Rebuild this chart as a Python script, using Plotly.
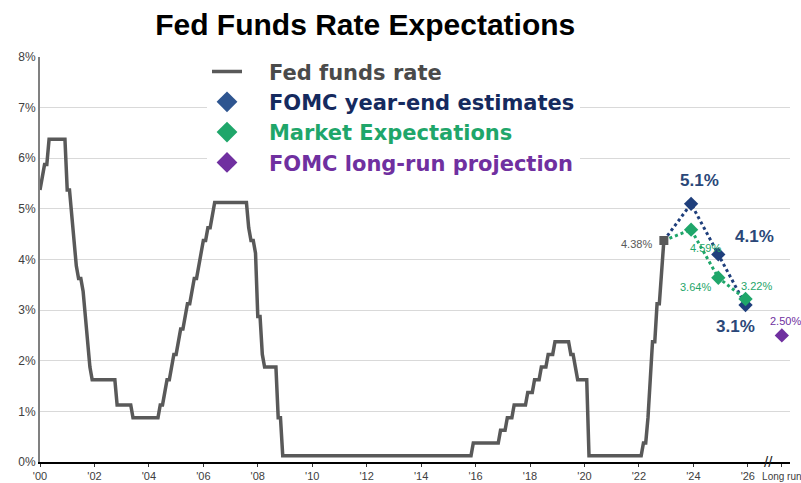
import plotly.graph_objects as go

# ---------------- data ----------------
ffr_dates = ["2000-01","2000-02","2000-03","2000-04","2000-05","2000-12",
             "2001-01","2001-02","2001-03","2001-04","2001-05","2001-06","2001-07","2001-08",
             "2001-09","2001-10","2001-11","2001-12","2002-10","2002-11","2003-05","2003-06",
             "2004-05","2004-06","2004-07","2004-08","2004-09","2004-10","2004-11","2004-12",
             "2005-01","2005-02","2005-03","2005-04","2005-05","2005-06","2005-07","2005-08",
             "2005-09","2005-10","2005-11","2005-12","2006-01","2006-02","2006-03","2006-04",
             "2006-05","2006-06","2007-08","2007-09","2007-10","2007-11","2007-12",
             "2008-01","2008-02","2008-03","2008-04","2008-09","2008-10","2008-11","2008-12",
             "2015-11","2015-12","2016-11","2016-12","2017-02","2017-03","2017-05","2017-06",
             "2017-11","2017-12","2018-02","2018-03","2018-05","2018-06","2018-08","2018-09",
             "2018-11","2018-12","2019-06","2019-07","2019-08","2019-09","2019-10","2020-02",
             "2020-03","2022-02","2022-03","2022-04","2022-05","2022-06","2022-07","2022-08",
             "2022-09","2022-10","2022-11","2022-12"]
ffr_values = [5.375,5.625,5.875,5.875,6.375,6.375,
              5.375,5.375,4.875,4.375,3.875,3.625,3.625,3.375,
              2.875,2.375,1.875,1.625,1.625,1.125,1.125,0.875,
              0.875,1.125,1.125,1.375,1.625,1.625,1.875,2.125,
              2.125,2.375,2.625,2.625,2.875,3.125,3.125,3.375,
              3.625,3.625,3.875,4.125,4.375,4.375,4.625,4.625,
              4.875,5.125,5.125,4.625,4.375,4.375,4.125,
              2.875,2.875,2.125,1.875,1.875,0.875,0.875,0.125,
              0.125,0.375,0.375,0.625,0.625,0.875,0.875,1.125,
              1.125,1.375,1.375,1.625,1.625,1.875,1.875,2.125,
              2.125,2.375,2.375,2.125,2.125,1.875,1.625,1.625,
              0.125,0.125,0.375,0.375,0.875,1.625,2.375,2.375,
              3.125,3.125,3.875,4.375]

proj_dates = ["2022-12","2023-12","2024-12","2025-12"]
fomc_values = [4.375, 5.1, 4.1, 3.1]
market_values = [4.375, 4.59, 3.64, 3.22]
fomc_labels = ["", "5.1%", "4.1%", "3.1%"]
market_labels = ["", "4.59%", "3.64%", "3.22%"]

longrun_x = 2027.25
longrun_value = 2.50
longrun_label = "2.50%"
last_label = "4.38%"

year_ticks = list(range(2000, 2027, 2))
year_tick_text = ["'%02d" % (y % 100) for y in year_ticks]

def to_x(d):
    y, m = d.split("-")
    return int(y) + (int(m) - 1) / 12.0

ffr_x = [to_x(d) for d in ffr_dates]
proj_x = [to_x(d) for d in proj_dates]

GRAY = "#595959"
NAVY = "#1F3F7C"
NAVY_TXT = "#152A5E"
GREEN = "#1FA66A"
PURPLE = "#7030A0"
FONT = "Liberation Sans, Arial, sans-serif"
LEG_FONT = "DejaVu Sans, Liberation Sans, sans-serif"
PAD = "\u00a0\u00a0\u00a0"

fig = go.Figure()

fig.add_trace(go.Scatter(x=ffr_x, y=ffr_values, mode="lines",
                         line=dict(color=GRAY, width=3.5),
                         name=PAD + "<span style='color:#4a4a4a'>Fed funds rate</span>",
                         showlegend=True, legendgroup="a", hoverinfo="skip"))
fig.add_trace(go.Scatter(x=proj_x, y=fomc_values, mode="lines",
                         line=dict(color=NAVY, width=3, dash="dot"),
                         showlegend=False, hoverinfo="skip"))
fig.add_trace(go.Scatter(x=proj_x, y=market_values, mode="lines",
                         line=dict(color=GREEN, width=3, dash="dot"),
                         showlegend=False, hoverinfo="skip"))
fig.add_trace(go.Scatter(x=proj_x[1:], y=fomc_values[1:], mode="markers",
                         marker=dict(symbol="diamond", size=11, color=NAVY),
                         showlegend=False, hoverinfo="skip"))
fig.add_trace(go.Scatter(x=proj_x[1:], y=market_values[1:], mode="markers",
                         marker=dict(symbol="diamond", size=11, color=GREEN),
                         showlegend=False, hoverinfo="skip"))
fig.add_trace(go.Scatter(x=[longrun_x], y=[longrun_value], mode="markers",
                         marker=dict(symbol="diamond", size=11, color=PURPLE),
                         showlegend=False, hoverinfo="skip"))
fig.add_trace(go.Scatter(x=[ffr_x[-1]], y=[ffr_values[-1]], mode="markers",
                         marker=dict(symbol="square", size=9, color=GRAY),
                         showlegend=False, hoverinfo="skip"))

fig.add_trace(go.Scatter(x=[None], y=[None], mode="markers",
                         marker=dict(symbol="diamond", size=17, color="#2E5590"),
                         name=PAD + "<span style='color:%s'>FOMC year-end estimates</span>" % NAVY_TXT,
                         legendgroup="b"))
fig.add_trace(go.Scatter(x=[None], y=[None], mode="markers",
                         marker=dict(symbol="diamond", size=17, color=GREEN),
                         name=PAD + "<span style='color:%s'>Market Expectations</span>" % GREEN,
                         legendgroup="c"))
fig.add_trace(go.Scatter(x=[None], y=[None], mode="markers",
                         marker=dict(symbol="diamond", size=17, color=PURPLE),
                         name=PAD + "<span style='color:%s'>FOMC long-run projection</span>" % PURPLE,
                         legendgroup="d"))

ann = []
fomc_off = [None, (8, 23), (36, 18), (-10, -21)]
for i in range(1, 4):
    ann.append(dict(x=proj_x[i], y=fomc_values[i], text="<b>%s</b>" % fomc_labels[i],
                    showarrow=False, xshift=fomc_off[i][0], yshift=fomc_off[i][1],
                    font=dict(size=17, color="#2A4778", family=FONT)))
mkt_off = [None, (14, -18), (-23, -9), (11, 13)]
for i in range(1, 4):
    ann.append(dict(x=proj_x[i], y=market_values[i], text=market_labels[i],
                    showarrow=False, xshift=mkt_off[i][0], yshift=mkt_off[i][1],
                    font=dict(size=11, color=GREEN, family=FONT)))
ann.append(dict(x=ffr_x[-1], y=ffr_values[-1], text=last_label, showarrow=False,
                xshift=-27, yshift=-3, font=dict(size=11, color=GRAY, family=FONT)))
ann.append(dict(x=longrun_x, y=longrun_value, text=longrun_label, showarrow=False,
                xshift=4, yshift=14, font=dict(size=11, color=PURPLE, family=FONT)))
ann.append(dict(x=2026.75, y=0, text="//", showarrow=False, yshift=1,
                font=dict(size=15, color="#222222", family=FONT)))

fig.update_layout(
    width=801, height=483,
    margin=dict(l=40, r=11, t=57, b=21),
    paper_bgcolor="white", plot_bgcolor="white",
    font=dict(family=FONT),
    title=dict(text="<b>Fed Funds Rate Expectations</b>", x=0.456, xanchor="center",
               y=0.95, yanchor="middle", yref="container",
               font=dict(size=30, color="black", family=FONT)),
    legend=dict(x=(207 - 40) / 750, y=1.014, xanchor="left", yanchor="top",
                bgcolor="white", borderwidth=0, tracegroupgap=0,
                font=dict(size=21, family=LEG_FONT, weight="bold"),
                itemsizing="trace", traceorder="normal"),
    annotations=ann,
    showlegend=True,
)
fig.update_xaxes(range=[2000, 2027.55], tickmode="array",
                 tickvals=year_ticks + [longrun_x],
                 ticktext=year_tick_text + ["<span style='font-size:10px'>Long run</span>"],
                 showgrid=False, showline=True, linecolor="black", linewidth=1.5,
                 ticks="outside", ticklen=3, tickcolor="#333333", automargin=False,
                 ticklabeloverflow="allow",
                 tickfont=dict(size=11, color="#404040", family=FONT), zeroline=False)
fig.update_yaxes(range=[0, 8], tickvals=list(range(0, 9)),
                 ticktext=["%d%%" % v for v in range(0, 9)],
                 showgrid=True, gridcolor="#d9d9d9", gridwidth=1,
                 showline=True, linecolor="#808080", linewidth=2, automargin=False,
                 ticks="", tickfont=dict(size=12, color="#404040", family=FONT),
                 zeroline=False)

fig.write_html("out.html")
